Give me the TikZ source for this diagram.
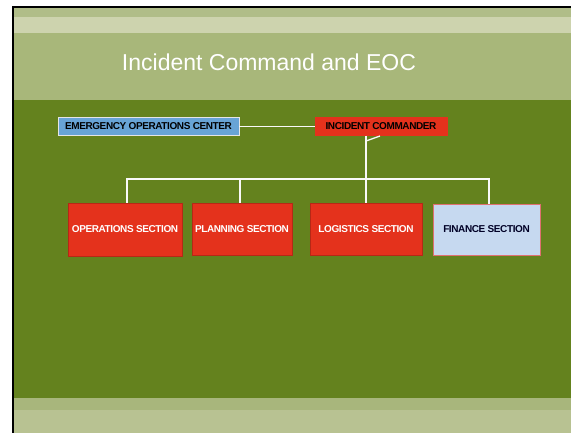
\documentclass[tikz,border=0pt]{standalone}
\usepackage{fontspec}
\setmainfont{Liberation Sans}
\definecolor{darkgreen}{HTML}{64821E}
\definecolor{titleband}{HTML}{A8B77A}
\definecolor{topband}{HTML}{B0BD88}
\definecolor{stripe}{HTML}{CDD3AE}
\definecolor{botband}{HTML}{B8C292}
\definecolor{botband2}{HTML}{A8B67C}
\definecolor{boxred}{HTML}{E4321C}
\definecolor{boxblue}{HTML}{68A4D6}
\definecolor{paleblue}{HTML}{C6D9F0}
\definecolor{pinkedge}{HTML}{E07070}
\tikzset{
  boxtext/.style={font=\fontsize{10}{12}\selectfont\bfseries\addfontfeature{LetterSpace=-4}},
  redsec/.style={fill=boxred, draw=boxred!80!black, line width=0.3pt, text=white, boxtext, inner sep=0pt},
  topbox/.style={draw=white!80!gray, line width=0.4pt, text=black, boxtext, inner sep=0pt},
  link/.style={draw=white!95!gray, line width=1.3pt}
}
\begin{document}
\begin{tikzpicture}[x=1pt,y=-1pt]
\useasboundingbox (0,0) rectangle (571,433);
\fill[white] (0,0) rectangle (571,433);
% background bands
\fill[topband] (13,7) rectangle (571,17);
\fill[stripe] (13,17) rectangle (571,33);
\fill[titleband] (13,33) rectangle (571,100);
\fill[darkgreen] (13,100) rectangle (571,398);
\fill[botband2] (13,398) rectangle (571,410);
\fill[botband] (13,410) rectangle (571,433);
\draw[black, line width=2pt] (13,433) -- (13,7) -- (571,7);
% title
\node[text=white, font=\fontsize{23}{27}\selectfont] (title) at (269,62) {Incident Command and EOC};
% top boxes
\node[topbox, fill=boxblue, minimum width=181, minimum height=18] (eoc) at (148.5,126.5) {EMERGENCY OPERATIONS CENTER};
\node[topbox, fill=boxred, draw=boxred, minimum width=132, minimum height=18] (ic) at (381,126.5) {INCIDENT COMMANDER};
% sections
\node[redsec, minimum width=114, minimum height=53] (ops) at (125,229.5) {OPERATIONS SECTION};
\node[redsec, minimum width=100, minimum height=52] (plan) at (242,229) {PLANNING SECTION};
\node[redsec, minimum width=112, minimum height=52] (log) at (366,229) {LOGISTICS SECTION};
\node[fill=paleblue, draw=pinkedge, line width=0.5pt, text=black!85!blue, boxtext, inner sep=0pt, minimum width=107, minimum height=51] (fin) at (486.5,229.5) {FINANCE SECTION};
% connectors
\coordinate (bus) at (366,179);
\draw[link] (eoc.east) -- (ic.west);
\draw[link] (ic.south -| bus) -- (bus);
\draw[link] (366,141) -- (380,136);
\draw[link] (ops.north -| 127,0) |- (bus) -| (fin.north -| 489,0);
\draw[link] (plan.north -| 240,0) -- (240,179);
\draw[link] (log.north) -- (bus);
\end{tikzpicture}
\end{document}
